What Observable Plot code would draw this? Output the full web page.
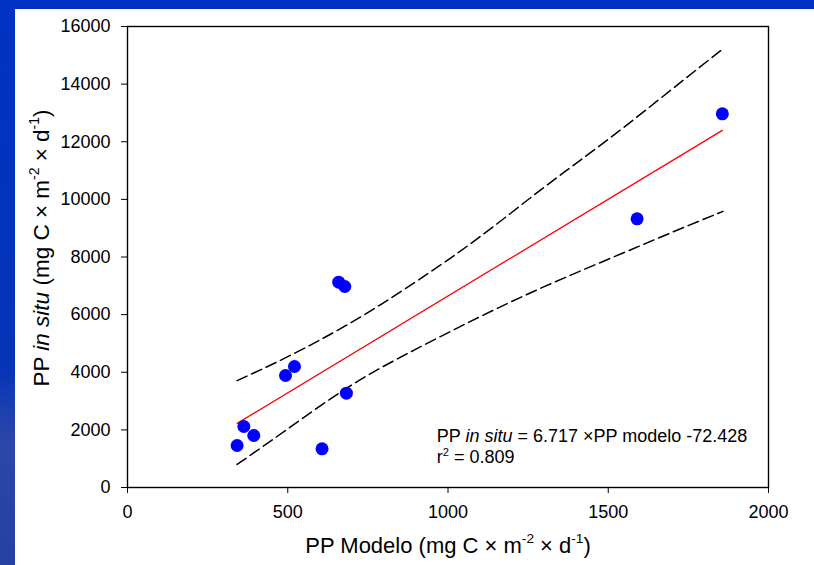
<!DOCTYPE html>
<html>
<head>
<meta charset="utf-8">
<script src="https://cdn.jsdelivr.net/npm/d3@7"></script>
<script src="https://cdn.jsdelivr.net/npm/@observablehq/plot@0.6"></script>
<style>
html, body { margin: 0; padding: 0; width: 814px; height: 565px; overflow: hidden; background: #0032c2; }
#leftbar { position: absolute; left: 0; top: 0; width: 15px; height: 565px;
  background: linear-gradient(to bottom, #0032c2 0%, #0634b8 65%, #2a48a8 78%, #24429f 100%); }
#paper { position: absolute; left: 15px; top: 9px; right: 0; bottom: 0; background: #ffffff; }
#chart { position: absolute; left: 0; top: 0; }
</style>
</head>
<body>
<div id="leftbar"></div>
<div id="paper"></div>
<div id="chart"></div>
<script>
// --- data ---
const modelo = [342, 363, 394, 493, 521, 607, 659, 678, 683, 1590, 1856];
const inSitu = [1458, 2117, 1805, 3887, 4200, 1343, 7125, 6976, 3273, 9326, 12970];

// 95% confidence band (dashed)
const bandModelo = [342, 500, 700, 900, 1100, 1300, 1500, 1700, 1858];
const bandUpper  = [3710, 4540, 5740, 7145, 8704, 10420, 12084, 13834, 15226];
const bandLower  = [800, 2033, 3560, 4801, 5928, 6970, 7922, 8860, 9585];

// regression stated on the chart
const slope = 6.717;
const intercept = -72.428;

const xTicks = [0, 500, 1000, 1500, 2000];
const yTicks = [0, 2000, 4000, 6000, 8000, 10000, 12000, 14000, 16000];

const points = modelo.map((m, i) => ({modelo: m, inSitu: inSitu[i]}));
const upper = bandModelo.map((m, i) => ({modelo: m, v: bandUpper[i]}));
const lower = bandModelo.map((m, i) => ({modelo: m, v: bandLower[i]}));
const xMin = d3.min(modelo), xMax = d3.max(modelo);
const fit = [xMin, xMax].map(m => ({modelo: m, v: slope * m + intercept}));

const eqX = 965, eqY1 = 1770, eqY2 = 1040;

const svg = Plot.plot({
  width: 814,
  height: 565,
  marginLeft: 127,
  marginRight: 46,
  marginTop: 26,
  marginBottom: 78,
  style: {background: "transparent", fontFamily: "'Liberation Sans', Arial, sans-serif", fontSize: "18px", color: "#000"},
  x: {domain: [0, 2000]},
  y: {domain: [0, 16000]},
  marks: [
    Plot.axisX({ticks: xTicks, tickSize: 6, tickPadding: 12, tickFormat: d => String(d), label: null, fontSize: 18, stroke: "#000"}),
    Plot.axisY({ticks: yTicks, tickSize: 6, tickPadding: 11, tickFormat: d => String(d), label: null, fontSize: 18, stroke: "#000"}),
    Plot.frame({stroke: "#000", strokeWidth: 1.4}),
    Plot.line(upper, {x: "modelo", y: "v", stroke: "#000", strokeWidth: 1.5, strokeDasharray: "11,5", curve: "natural"}),
    Plot.line(lower, {x: "modelo", y: "v", stroke: "#000", strokeWidth: 1.5, strokeDasharray: "11,5", curve: "natural"}),
    Plot.line(fit, {x: "modelo", y: "v", stroke: "#ff0000", strokeWidth: 1.3}),
    Plot.dot(points, {x: "modelo", y: "inSitu", r: 6.5, fill: "#0000ff", stroke: "none"}),
    Plot.text(["@EQ1"], {x: () => eqX, y: () => eqY1, text: d => d, textAnchor: "start", fontSize: 18, fill: "#000"}),
    Plot.text(["@EQ2"], {x: () => eqX, y: () => eqY2, text: d => d, textAnchor: "start", fontSize: 18, fill: "#000"}),
    Plot.text(["@XT"], {frameAnchor: "bottom", dy: 65, text: d => d, textAnchor: "middle", fontSize: 22, fill: "#000"}),
    Plot.text(["@YT"], {frameAnchor: "left", rotate: -90, dx: -86, dy: -9, text: d => d, textAnchor: "middle", lineAnchor: "middle", fontSize: 22.5, fill: "#000"})
  ]
});

function rich(key, parts, fs) {
  d3.select(svg).selectAll("text").filter(function () { return this.textContent === key; }).each(function () {
    const t = d3.select(this);
    t.text(null);
    let raised = false;
    parts.forEach(p => {
      const s = t.append("tspan").text(p.t);
      if (p.i) s.attr("font-style", "italic");
      if (p.sup) {
        s.attr("font-size", (fs * 0.62) + "px").attr("dy", (-fs * 0.42) + "px");
        raised = true;
      } else if (raised) {
        s.attr("dy", (fs * 0.42) + "px");
        raised = false;
      }
    });
  });
}

rich("@EQ1", [{t: "PP "}, {t: "in situ", i: true}, {t: " = 6.717 \u00d7PP modelo -72.428"}], 18);
rich("@EQ2", [{t: "r"}, {t: "2", sup: true}, {t: " = 0.809"}], 18);
rich("@XT", [{t: "PP Modelo (mg C \u00d7 m"}, {t: "-2", sup: true}, {t: " \u00d7 d"}, {t: "-1", sup: true}, {t: ")"}], 22);
rich("@YT", [{t: "PP "}, {t: "in situ", i: true}, {t: " (mg C \u00d7 m"}, {t: "-2", sup: true}, {t: " \u00d7 d"}, {t: "-1", sup: true}, {t: ")"}], 22.5);

document.getElementById("chart").appendChild(svg);
</script>
</body>
</html>
